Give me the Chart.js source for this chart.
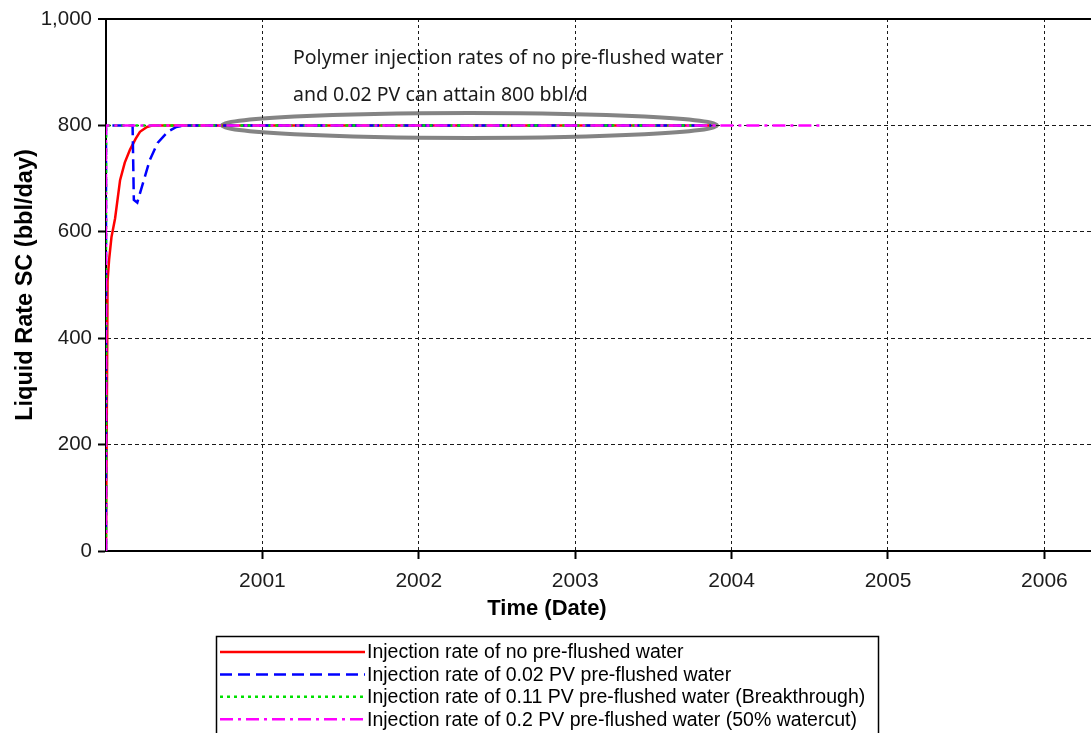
<!DOCTYPE html>
<html>
<head>
<meta charset="utf-8">
<script src="https://cdn.jsdelivr.net/npm/chart.js@4.4.1/dist/chart.umd.min.js"></script>
<style>
  html, body { margin: 0; padding: 0; background: #ffffff; }
  canvas { display: block; }
</style>
</head>
<body>
<canvas id="rateChart" width="1091" height="733"></canvas>
<script>
// Series names
const seriesLabels = [
  'Injection rate of no pre-flushed water',
  'Injection rate of 0.02 PV pre-flushed water',
  'Injection rate of 0.11 PV pre-flushed water (Breakthrough)',
  'Injection rate of 0.2 PV pre-flushed water (50% watercut)'
];

// Time in decimal years, liquid rate in bbl/day
const noFlushYears = [2000.000, 2000.000, 2000.010, 2000.020, 2000.035, 2000.058, 2000.090, 2000.120, 2000.153, 2000.190, 2000.217, 2000.262, 2000.300, 2003.870];
const noFlushRates = [0, 0, 508, 548, 590, 625, 697, 730, 754, 775, 788, 797, 800, 800];

const pv002Years = [2000.000, 2000.000, 2000.170, 2000.178, 2000.200, 2000.235, 2000.280, 2000.330, 2000.395, 2000.450, 2000.500, 2003.870];
const pv002Rates = [0, 800, 800, 660, 655, 690, 735, 767, 788, 797, 800, 800];

const pv011Years = [2000.000, 2000.000, 2003.860];
const pv011Rates = [0, 800, 800];

const pv02Years = [2000.000, 2000.000, 2004.580];
const pv02Rates = [0, 800, 800];

// Axis ticks
const yearTicks = [2001, 2002, 2003, 2004, 2005, 2006];
const rateTicks = [0, 200, 400, 600, 800, 1000];

// Callout text and the ring drawn around the 800 bbl/d plateau
const noteLines = [
  'Polymer injection rates of no pre-flushed water',
  'and 0.02 PV can attain 800 bbl/d'
];
const ringCenter = { x: 2002.324, y: 800 };
const ringRadius = { x: 1.5825, y: 23.5 };

const toPoints = (xs, ys) => xs.map((x, i) => ({ x: x, y: ys[i] }));

const FONT = "'Liberation Sans', Arial, sans-serif";

// Callout ring, drawn beneath grid and lines
const ringPlugin = {
  id: 'ring',
  beforeDraw(chart) {
    const { ctx, scales: { x, y } } = chart;
    const cx = x.getPixelForValue(ringCenter.x);
    const cy = y.getPixelForValue(ringCenter.y);
    const rx = x.getPixelForValue(ringCenter.x + ringRadius.x) - cx;
    const ry = cy - y.getPixelForValue(ringCenter.y + ringRadius.y);
    ctx.save();
    ctx.beginPath();
    ctx.ellipse(cx, cy, rx, ry, 0, 0, Math.PI * 2);
    ctx.lineWidth = 4;
    ctx.strokeStyle = '#848484';
    ctx.stroke();
    ctx.restore();
  }
};

// Callout text, x-axis title and the boxed legend below the plot
const overlayPlugin = {
  id: 'overlay',
  afterDraw(chart) {
    const { ctx } = chart;
    ctx.save();

    // callout text
    ctx.fillStyle = '#1a1a1a';
    ctx.font = "19.5px 'Noto Sans', 'Open Sans', sans-serif";
    ctx.textBaseline = 'middle';
    ctx.textAlign = 'left';
    ctx.fillText(noteLines[0], 293, 58);
    ctx.fillText(noteLines[1], 293, 95);

    // x-axis title
    ctx.fillStyle = '#000000';
    ctx.font = 'bold 22px ' + FONT;
    ctx.textAlign = 'center';
    ctx.fillText('Time (Date)', 547, 609);

    // legend box
    const boxLeft = 216, boxTop = 636, boxRight = 878;
    ctx.lineWidth = 1.5;
    ctx.strokeStyle = '#000000';
    ctx.setLineDash([]);
    ctx.strokeRect(boxLeft + 0.5, boxTop + 0.5, boxRight - boxLeft, 140);

    ctx.font = '19.5px ' + FONT;
    ctx.textAlign = 'left';
    ctx.textBaseline = 'middle';
    chart.data.datasets.forEach((ds, i) => {
      const rowY = 652 + i * 22.4;
      ctx.save();
      ctx.beginPath();
      ctx.strokeStyle = ds.borderColor;
      ctx.lineWidth = ds.borderWidth;
      ctx.setLineDash(ds.borderDash || []);
      ctx.moveTo(220, rowY);
      ctx.lineTo(365, rowY);
      ctx.stroke();
      ctx.restore();
      ctx.fillStyle = '#000000';
      ctx.fillText(ds.label, 367, rowY + 1);
    });
    ctx.restore();
  }
};

const lineStyle = { pointRadius: 0, pointHoverRadius: 0, tension: 0, fill: false };

new Chart(document.getElementById('rateChart'), {
  type: 'line',
  data: {
    datasets: [
      Object.assign({ label: seriesLabels[0], data: toPoints(noFlushYears, noFlushRates), borderColor: '#ff0000', borderWidth: 2.5, borderDash: [], order: 3 }, lineStyle),
      Object.assign({ label: seriesLabels[1], data: toPoints(pv002Years, pv002Rates), borderColor: '#0000ff', borderWidth: 2.5, borderDash: [12, 6], order: 2 }, lineStyle),
      Object.assign({ label: seriesLabels[2], data: toPoints(pv011Years, pv011Rates), borderColor: '#00e000', borderWidth: 2.5, borderDash: [3, 4], order: 1 }, lineStyle),
      Object.assign({ label: seriesLabels[3], data: toPoints(pv02Years, pv02Rates), borderColor: '#ff00ff', borderWidth: 2.5, borderDash: [13, 5, 3, 5], order: 0 }, lineStyle)
    ]
  },
  options: {
    responsive: false,
    animation: false,
    events: [],
    layout: { padding: { top: 19, right: 0, bottom: 102, left: 0 } },
    plugins: {
      legend: { display: false },
      tooltip: { enabled: false }
    },
    scales: {
      x: {
        type: 'linear',
        min: 2000,
        max: 2006.298,
        afterBuildTicks: (scale) => { scale.ticks = yearTicks.map(v => ({ value: v })); },
        afterFit: (scale) => { scale.height = 80; },
        ticks: {
          font: { family: FONT, size: 21 },
          color: '#1c1c1c',
          padding: 10,
          maxRotation: 0,
          autoSkip: false,
          callback: (v) => String(v)
        },
        grid: {
          color: '#1a1a1a',
          lineWidth: 1,
          drawTicks: true,
          tickLength: 8,
          tickWidth: 2,
          tickColor: '#000000',
          tickBorderDash: []
        },
        border: { display: true, color: '#000000', width: 2, dash: [3, 3] }
      },
      y: {
        type: 'linear',
        min: 0,
        max: 1000,
        afterBuildTicks: (scale) => { scale.ticks = rateTicks.map(v => ({ value: v })); },
        afterFit: (scale) => { scale.width = 106; },
        ticks: {
          font: { family: FONT, size: 20.5 },
          color: '#1c1c1c',
          padding: 6,
          callback: (v) => Number(v).toLocaleString('en-US')
        },
        title: {
          display: true,
          text: 'Liquid Rate SC (bbl/day)',
          color: '#000000',
          font: { family: FONT, size: 23.5, weight: 'bold' },
          padding: { top: 11, bottom: 0 }
        },
        grid: {
          color: (c) => (c.tick && c.tick.value === 1000 ? '#000000' : '#1a1a1a'),
          lineWidth: (c) => (c.tick && c.tick.value === 1000 ? 2 : 1),
          drawTicks: true,
          tickLength: 8,
          tickWidth: 2,
          tickColor: '#000000',
          tickBorderDash: []
        },
        border: {
          display: true,
          color: '#000000',
          width: 2,
          dash: (c) => (c.tick && c.tick.value === 1000 ? [] : [4, 3])
        }
      }
    }
  },
  plugins: [ringPlugin, overlayPlugin]
});
</script>
</body>
</html>
